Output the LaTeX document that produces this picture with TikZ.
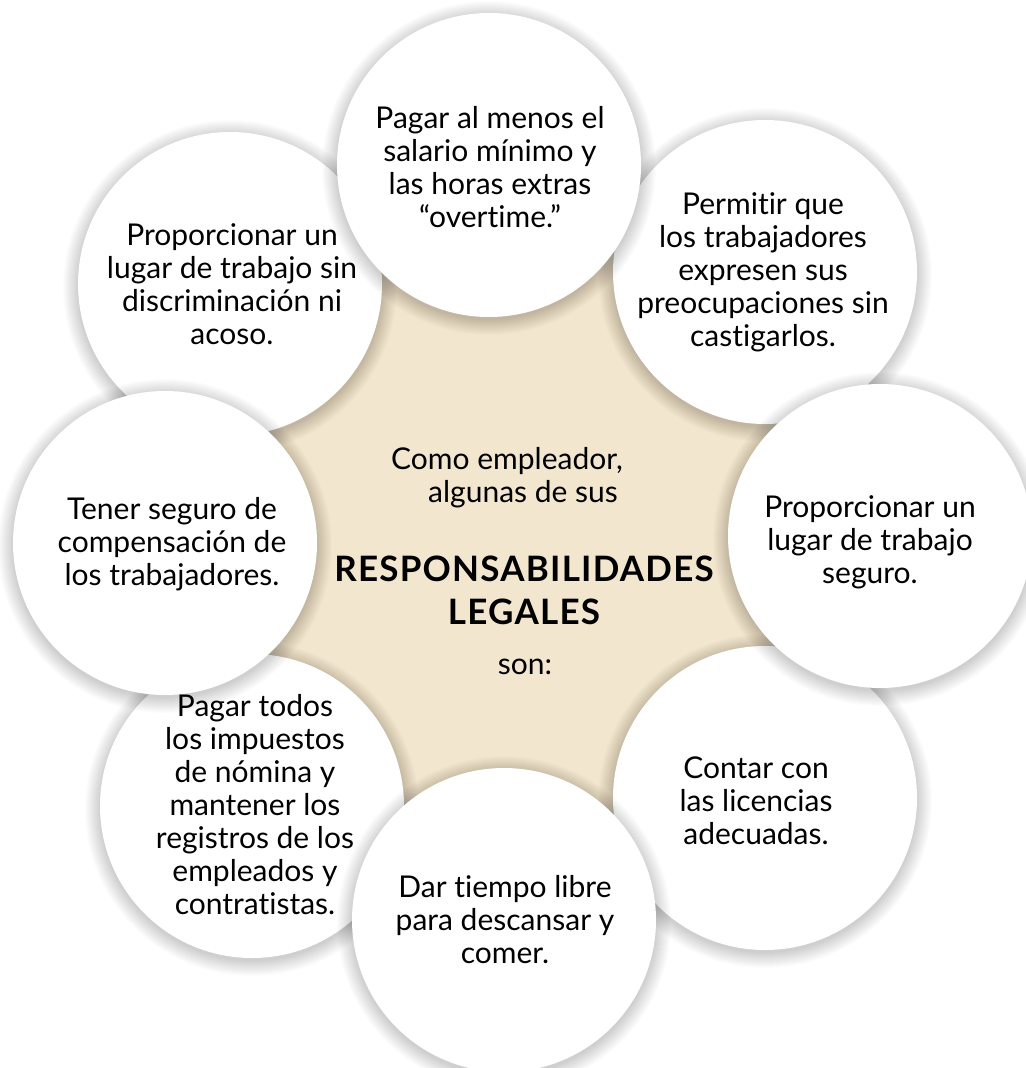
\documentclass[tikz,border=0pt]{standalone}
\usepackage{fontspec}
\setmainfont{Lato}[Ligatures={TeX,NoCommon}]
\newfontfamily\legalfont{Lato}[Ligatures={TeX,NoCommon},LetterSpace=3.5]
\usetikzlibrary{calc}
\definecolor{beige}{RGB}{242,230,206}
\tikzset{
  disc/.style={circle, fill=white, minimum size=152pt, inner sep=0pt, outer sep=0pt},
  txt/.style={align=center, inner sep=0pt, font=\fontsize{15}{16.5}\selectfont},
  boldtxt/.style={align=center, inner sep=0pt, font=\legalfont\fontsize{17.5}{21.5}\selectfont\bfseries},
  shadelayer/.style={black, opacity=0.012},
}
\newcommand\bubble[2]{%
  \foreach \k in {1,...,16}{\fill[shadelayer] ($(#2)+(0,3)$) circle (151+\k);}
  \node[disc] (#1) at (#2) {};
}
\begin{document}
\begin{tikzpicture}[x=0.5pt,y=-0.5pt]
\useasboundingbox (0,0) rectangle (1025,1068);
\fill[white] (0,0) rectangle (1025,1068);
\coordinate (p1) at (489,165);
\coordinate (p2) at (765,272);
\coordinate (p3) at (880,536);
\coordinate (p4) at (765,798);
\coordinate (p5) at (504,920);
\coordinate (p6) at (252,806);
\coordinate (p7) at (165,543);
\coordinate (p8) at (230,284);
\fill[beige] (p1)--(p2)--(p3)--(p4)--(p5)--(p6)--(p7)--(p8)--cycle;
\bubble{c2}{p2}
\bubble{c4}{p4}
\bubble{c6}{p6}
\bubble{c8}{p8}
\bubble{c1}{p1}
\bubble{c3}{p3}
\bubble{c5}{p5}
\bubble{c7}{p7}
\node[txt] (t1) at (490,167) {Pagar al menos el\\salario mínimo y\\las horas extras\\“overtime.”};
\node[txt] (t2) at (763,272) {Permitir que\\los trabajadores\\expresen sus\\preocupaciones sin\\castigarlos.};
\node[txt] (t3) at (870,542) {Proporcionar un\\lugar de trabajo\\seguro.};
\node[txt] (t4) at (756,801) {Contar con\\las licencias\\adecuadas.};
\node[txt] (t5) at (505,920) {Dar tiempo libre\\para descansar y\\comer.};
\node[txt] (t6) at (255,805) {Pagar todos\\los impuestos\\de nómina y\\mantener los\\registros de los\\empleados y\\contratistas.};
\node[txt] (t7) at (172,544) {Tener seguro de\\compensación de\\los trabajadores.};
\node[txt] (t8) at (232,284) {Proporcionar un\\lugar de trabajo sin\\discriminación ni\\acoso.};
\node[txt] (m1) at (507,478) {Como empleador,\\\hspace*{16pt}algunas de sus};
\node[boldtxt] (m2) at (524,590) {RESPONSABILIDADES\\LEGALES};
\node[txt] (m3) at (525,667) {son:};
\end{tikzpicture}
\end{document}
